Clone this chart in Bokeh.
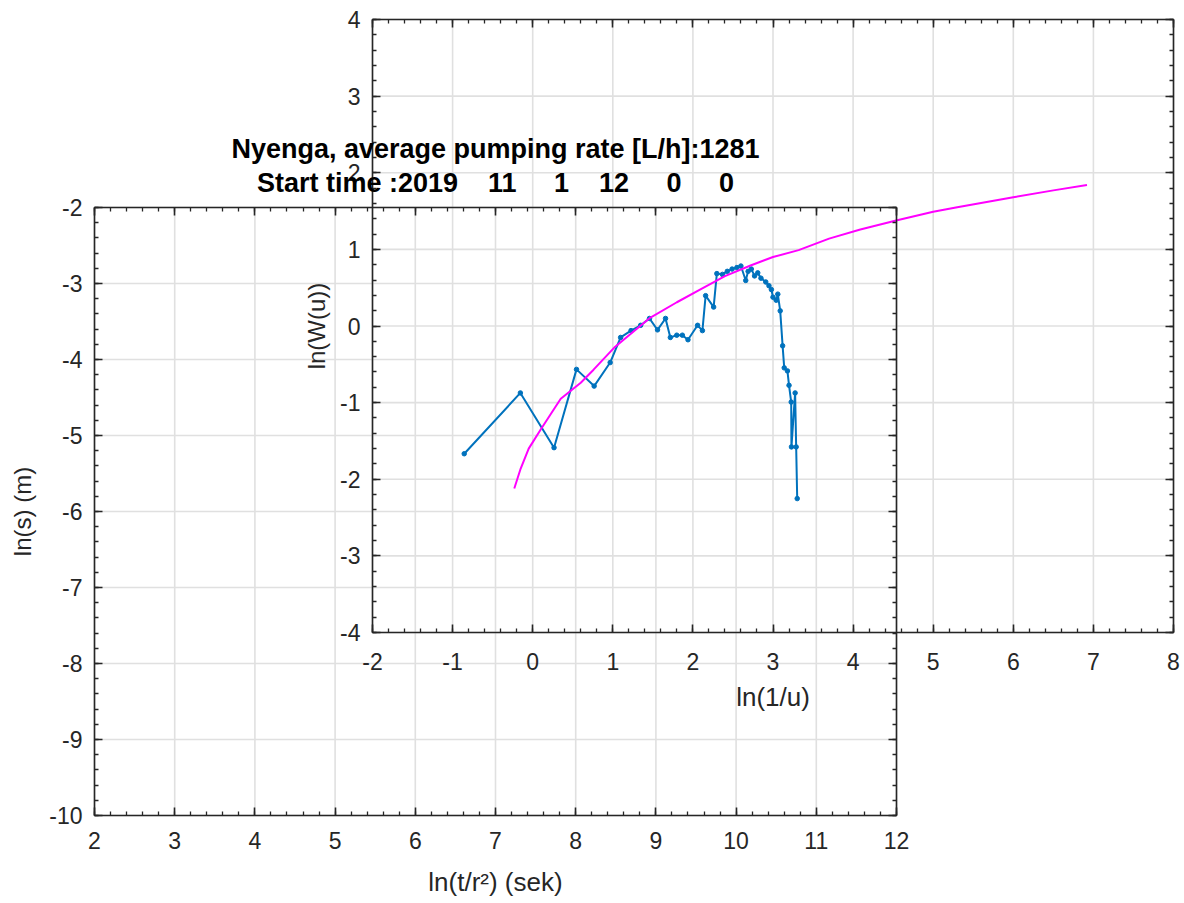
from bokeh.plotting import figure
from bokeh.models import Range1d, LinearAxis, SingleIntervalTicker, Label, PrintfTickFormatter
from bokeh.embed import file_html
from bokeh.resources import INLINE

# ---------------- data ----------------
# measured drawdown (back axes): ln(t/r^2) [sek] vs ln(s) [m]
ln_t_r2 = [6.61, 7.31, 7.73, 8.01, 8.23, 8.43, 8.56, 8.69, 8.81, 8.92, 9.02, 9.12,
           9.18, 9.26, 9.33, 9.40, 9.52, 9.58, 9.62, 9.72, 9.76, 9.83, 9.89, 9.95,
           10.01, 10.06, 10.12, 10.15, 10.19, 10.23, 10.27, 10.31, 10.37, 10.41,
           10.44, 10.46, 10.50, 10.52, 10.55, 10.58, 10.60, 10.64, 10.66, 10.687,
           10.69, 10.736, 10.749, 10.762]
ln_s = [-5.24, -4.44, -5.16, -4.13, -4.35, -4.04, -3.71, -3.62, -3.55, -3.46, -3.61, -3.46,
        -3.71, -3.68, -3.68, -3.74, -3.55, -3.62, -3.16, -3.31, -2.87, -2.88, -2.84, -2.81,
        -2.79, -2.77, -2.96, -2.84, -2.81, -2.90, -2.86, -2.93, -2.98, -3.03,
        -3.08, -3.18, -3.22, -3.14, -3.36, -3.82, -4.11, -4.15, -4.34, -4.56,
        -5.15, -4.44, -5.15, -5.83]

# Theis type curve (front axes): ln(1/u) vs ln(W(u))
ln_inv_u = [-0.23, -0.15, -0.05, 0.10, 0.35, 0.60, 0.76, 1.03, 1.47, 1.80, 2.10, 2.40,
            2.72, 3.00, 3.32, 3.70, 4.09, 4.55, 5.00, 5.30, 6.00, 6.50, 6.92]
ln_W = [-2.12, -1.86, -1.60, -1.35, -0.95, -0.74, -0.57, -0.27, 0.11, 0.31, 0.48, 0.65,
        0.79, 0.90, 0.99, 1.14, 1.26, 1.38, 1.49, 1.55, 1.68, 1.77, 1.84]

site = "Nyenga"
pumping_rate = 1281
start_time = [2019, 11, 1, 12, 0, 0]

BACK_XLIM = (2, 12)
BACK_YLIM = (-10, -2)
FRONT_XLIM = (-2, 8)
FRONT_YLIM = (-4, 4)
back_xticks = list(range(2, 13))
back_yticks = list(range(-10, -1))
front_xticks = list(range(-2, 9))
front_yticks = list(range(-4, 5))

# ---------------- layout geometry (pixels; frame = whole canvas) ----------------
W, H = 1184, 903
BACK_PX_X = (94, 896)      # left, right
BACK_PX_Y = (88, 696)      # bottom, top (measured from canvas bottom)
FRONT_PX_X = (372, 1173)
FRONT_PX_Y = (271, 884)


def span(lim, lo_px, hi_px, total_px):
    a, b = lim
    k = (b - a) / (hi_px - lo_px)
    return a - lo_px * k, a + (total_px - lo_px) * k


bx = span(BACK_XLIM, *BACK_PX_X, W)
by = span(BACK_YLIM, *BACK_PX_Y, H)
fx = span(FRONT_XLIM, *FRONT_PX_X, W)
fy = span(FRONT_YLIM, *FRONT_PX_Y, H)

p = figure(width=W, height=H, output_backend="svg", toolbar_location=None,
           x_axis_type=None, y_axis_type=None,
           x_range=Range1d(*fx), y_range=Range1d(*fy),
           min_border_left=0, min_border_right=0,
           min_border_top=0, min_border_bottom=0)
p.extra_x_ranges = {"back": Range1d(*bx)}
p.extra_y_ranges = {"back": Range1d(*by)}
p.outline_line_color = None
p.background_fill_color = "white"
p.border_fill_color = "white"

AX = "#262626"
FONT = "Liberation Sans"
GRID = "#e0e0e0"


def add_axis(side, xr, yr, loc, bounds, labels=True, axis_label=None,
             standoff=12, label_standoff=10, label_size="25px"):
    ax = LinearAxis(x_range_name=xr, y_range_name=yr, fixed_location=loc, bounds=bounds,
                    ticker=SingleIntervalTicker(interval=1, num_minor_ticks=5),
                    formatter=PrintfTickFormatter(format="%d"),
                    axis_line_color=AX, axis_line_width=1.6,
                    major_tick_line_color=AX, major_tick_line_width=1.6,
                    minor_tick_line_color=AX, minor_tick_line_width=1.3,
                    major_tick_in=8, major_tick_out=0, minor_tick_in=4, minor_tick_out=0,
                    major_label_text_font=FONT, major_label_text_font_size="23px",
                    major_label_text_color=AX if labels else None,
                    major_label_standoff=standoff)
    if not labels:
        ax.major_label_text_font_size = "0px"
    if axis_label:
        ax.axis_label = axis_label
        ax.axis_label_text_font = FONT
        ax.axis_label_text_font_size = label_size
        ax.axis_label_text_font_style = "normal"
        ax.axis_label_text_color = AX
        ax.axis_label_standoff = label_standoff
    p.add_layout(ax, side)


# grids (drawn from tick lists, limited to each axes box)
p.segment(x0=back_xticks, x1=back_xticks, y0=[BACK_YLIM[0]] * len(back_xticks),
          y1=[BACK_YLIM[1]] * len(back_xticks), x_range_name="back", y_range_name="back",
          line_color=GRID, line_width=1.6, level="underlay")
p.segment(y0=back_yticks, y1=back_yticks, x0=[BACK_XLIM[0]] * len(back_yticks),
          x1=[BACK_XLIM[1]] * len(back_yticks), x_range_name="back", y_range_name="back",
          line_color=GRID, line_width=1.6, level="underlay")
p.segment(x0=front_xticks, x1=front_xticks, y0=[FRONT_YLIM[0]] * len(front_xticks),
          y1=[FRONT_YLIM[1]] * len(front_xticks),
          line_color=GRID, line_width=1.6, level="underlay")
p.segment(y0=front_yticks, y1=front_yticks, x0=[FRONT_XLIM[0]] * len(front_yticks),
          x1=[FRONT_XLIM[1]] * len(front_yticks),
          line_color=GRID, line_width=1.6, level="underlay")

# back axes box
add_axis("below", "back", "back", BACK_YLIM[0], BACK_XLIM, True,
         "ln(t/r\u00b2) (sek)", standoff=16, label_standoff=15, label_size="26px")
add_axis("left", "back", "back", BACK_XLIM[0], BACK_YLIM, True,
         "ln(s) (m)", standoff=12, label_standoff=10, label_size="24px")
add_axis("above", "back", "back", BACK_YLIM[1], BACK_XLIM, False)
add_axis("right", "back", "back", BACK_XLIM[1], BACK_YLIM, False)

# front axes box
add_axis("below", "default", "default", FRONT_YLIM[0], FRONT_XLIM, True,
         "ln(1/u)", standoff=20, label_standoff=9, label_size="26px")
add_axis("left", "default", "default", FRONT_XLIM[0], FRONT_YLIM, True,
         "ln(W(u))", standoff=12, label_standoff=7, label_size="24px")
add_axis("above", "default", "default", FRONT_YLIM[1], FRONT_XLIM, False)
add_axis("right", "default", "default", FRONT_XLIM[1], FRONT_YLIM, False)

# data
p.line(ln_t_r2, ln_s, x_range_name="back", y_range_name="back",
       line_color="#0072BD", line_width=2)
p.scatter(ln_t_r2, ln_s, x_range_name="back", y_range_name="back",
          size=4.5, fill_color="#0072BD", line_color="#0072BD")
p.line(ln_inv_u, ln_W, line_color="#FF00FF", line_width=2)

# title (two lines, centred over the back axes)
times = "".join(f"{v:6d}" for v in start_time).strip().replace(" ", "\u00a0")
t1 = f"{site}, average pumping rate [L/h]:{pumping_rate}"
t2 = f"Start\u00a0time\u00a0:{times}"
xc = (BACK_XLIM[0] + BACK_XLIM[1]) / 2
for txt, sy in [(t1, H - 148), (t2, H - 182)]:
    p.add_layout(Label(x=xc, y=sy, x_units="data", y_units="screen", x_range_name="back",
                       text=txt, text_font=FONT, text_font_size="27px",
                       text_font_style="bold", text_color="black",
                       text_align="center", text_baseline="middle"))

open("out.html", "w").write(file_html(p, INLINE))
